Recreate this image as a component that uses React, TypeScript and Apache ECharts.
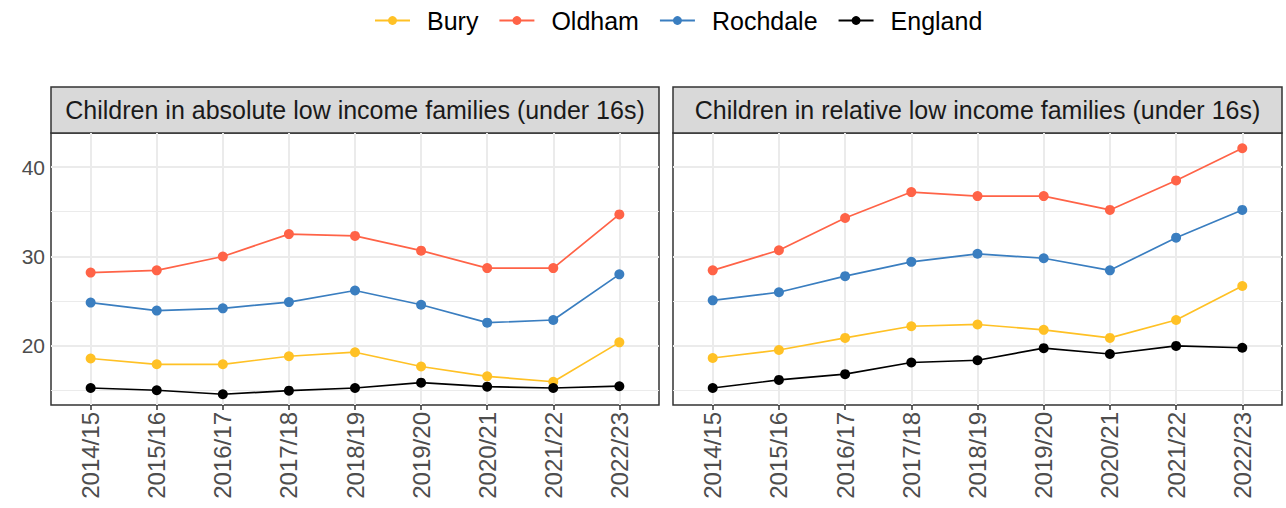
import React, { useEffect, useRef } from "react";
import * as echarts from "echarts";

const categories = ["2014/15", "2015/16", "2016/17", "2017/18", "2018/19", "2019/20", "2020/21", "2021/22", "2022/23"];
const seriesNames = ["Bury", "Oldham", "Rochdale", "England"];
const seriesColors = ["#FFC125", "#FF6347", "#3A7EC0", "#000000"];

const absBury = [18.6, 17.95, 17.95, 18.85, 19.3, 17.7, 16.6, 16.0, 20.4];
const absOldham = [28.2, 28.45, 30.0, 32.5, 32.3, 30.65, 28.7, 28.7, 34.7];
const absRochdale = [24.85, 23.95, 24.2, 24.9, 26.2, 24.6, 22.6, 22.9, 28.0];
const absEngland = [15.3, 15.05, 14.6, 15.0, 15.3, 15.9, 15.45, 15.3, 15.5];

const relBury = [18.65, 19.55, 20.9, 22.2, 22.4, 21.8, 20.9, 22.9, 26.7];
const relOldham = [28.45, 30.7, 34.3, 37.2, 36.75, 36.75, 35.2, 38.5, 42.1];
const relRochdale = [25.1, 26.0, 27.8, 29.4, 30.3, 29.8, 28.45, 32.1, 35.2];
const relEngland = [15.3, 16.2, 16.85, 18.15, 18.4, 19.75, 19.1, 20.0, 19.8];

const panelTitles = [
  "Children in absolute low income families (under 16s)",
  "Children in relative low income families (under 16s)",
];

const yMajor = [20, 30, 40];
const yMinor = [15, 25, 35];
const yMin = 13.4;
const yMax = 43.8;

const FONT = "'Liberation Sans', Arial, sans-serif";

export default function App() {
  const ref = useRef<HTMLDivElement>(null);

  useEffect(() => {
    document.body.style.margin = "0";
    if (!ref.current) return;
    const chart = echarts.init(ref.current, undefined, { renderer: "svg" });

    const panels = [
      { left: 51, width: 608 },
      { left: 673, width: 609 },
    ];
    const top = 133;
    const height = 272;
    const stripTop = 87;

    const idx = categories.map((_, i) => i);
    const panelData = [
      [absBury, absOldham, absRochdale, absEngland],
      [relBury, relOldham, relRochdale, relEngland],
    ];

    const series: any[] = [];
    panels.forEach((_, p) => {
      series.push({
        type: "line",
        name: "__grid" + p,
        xAxisIndex: p,
        yAxisIndex: p,
        data: [],
        silent: true,
        z: 1,
        markLine: {
          silent: true,
          symbol: "none",
          z: 1,
          animation: false,
          label: { show: false },
          emphasis: { disabled: true },
          data: [
            ...yMinor.map((v) => ({ yAxis: v, lineStyle: { color: "#EBEBEB", width: 1, type: "solid" } })),
            ...yMajor.map((v) => ({ yAxis: v, lineStyle: { color: "#EBEBEB", width: 2, type: "solid" } })),
            ...idx.map((v) => ({ xAxis: v, lineStyle: { color: "#EBEBEB", width: 2, type: "solid" } })),
          ],
        },
      });
      panelData[p].forEach((vals, s) => {
        series.push({
          type: "line",
          name: seriesNames[s],
          xAxisIndex: p,
          yAxisIndex: p,
          data: vals.map((v, i) => [i, v]),
          symbol: "circle",
          symbolSize: 10,
          itemStyle: { color: seriesColors[s] },
          lineStyle: { color: seriesColors[s], width: 1.7 },
          z: 3,
        });
      });
    });

    const option: any = {
      animation: false,
      textStyle: { fontFamily: FONT },
      legend: {
        data: seriesNames,
        top: 3,
        left: 369,
        itemWidth: 35,
        itemHeight: 11,
        itemGap: 20,
        textStyle: { fontSize: 25, color: "#000", fontFamily: FONT, padding: [0, 0, 0, 12] },
      },
      grid: panels.map((g) => ({
        left: g.left,
        width: g.width,
        top,
        height,
        show: true,
        borderColor: "#333333",
        borderWidth: 1.5,
        backgroundColor: "transparent",
      })),
      xAxis: panels.map((_, p) => ({
        type: "value",
        gridIndex: p,
        min: -0.6,
        max: 8.6,
        axisLine: { show: false },
        splitLine: { show: false },
        axisTick: { show: true, length: 5, customValues: idx, lineStyle: { color: "#333333", width: 1.5 } },
        axisLabel: {
          customValues: idx,
          rotate: 90,
          fontSize: 24,
          color: "#4D4D4D",
          fontFamily: FONT,
          margin: 7,
          formatter: (v: number) => categories[Math.round(v)] ?? "",
        },
      })),
      yAxis: panels.map((_, p) => ({
        type: "value",
        gridIndex: p,
        min: yMin,
        max: yMax,
        axisLine: { show: false },
        splitLine: { show: false },
        axisTick: { show: p === 0, length: 5, customValues: yMajor, lineStyle: { color: "#333333", width: 1.5 } },
        axisLabel: {
          show: p === 0,
          customValues: yMajor,
          fontSize: 21,
          color: "#4D4D4D",
          fontFamily: FONT,
          margin: 6,
        },
      })),
      graphic: panels.map((g, p) => ({
        type: "group",
        children: [
          {
            type: "rect",
            shape: { x: g.left, y: stripTop, width: g.width, height: top - stripTop },
            style: { fill: "#D9D9D9", stroke: "#333333", lineWidth: 1.5 },
          },
          {
            type: "text",
            x: g.left + g.width / 2,
            y: (stripTop + top) / 2,
            style: {
              text: panelTitles[p],
              fontSize: 25,
              fontFamily: FONT,
              fill: "#1A1A1A",
              align: "center",
              verticalAlign: "middle",
            },
          },
        ],
      })),
      series,
    };

    chart.setOption(option);
    return () => chart.dispose();
  }, []);

  return <div ref={ref} style={{ width: 1286, height: 508 }} />;
}
